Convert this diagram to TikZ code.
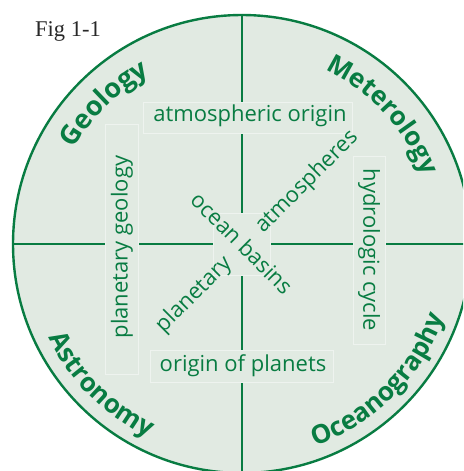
\documentclass[tikz,border=0pt]{standalone}
\usepackage{fontspec}
\setmainfont{Open Sans}
\newfontfamily\figfont{Liberation Serif}
\usetikzlibrary{decorations.text,calc}
\definecolor{dgreen}{RGB}{8,124,66}
\definecolor{pale}{RGB}{225,234,226}
\definecolor{boxedge}{RGB}{238,243,239}
\definecolor{figgray}{RGB}{40,40,40}
\tikzset{
  inner/.style={text=dgreen, font=\fontsize{22}{22}\selectfont, inner sep=0pt},
  boxbg/.style={fill=pale, draw=boxedge, line width=0.8pt, inner sep=0pt},
  axis/.style={draw=dgreen, line width=2.4pt},
}
\begin{document}
\begin{tikzpicture}[x=1pt,y=1pt]
\useasboundingbox (0,0) rectangle (463,-471);
\clip (0,0) rectangle (463,-471);
\coordinate (c) at (242,-244);
\node[circle, minimum size=458pt, fill=pale, draw=dgreen, line width=2.4pt, inner sep=0pt] (disc) at (c) {};
% axes
\draw[axis] (disc.north) -- (disc.south);
\draw[axis] (disc.west) -- (disc.east);
% boxes
\node[boxbg, minimum width=209pt, minimum height=31pt] (b1) at (247.5,-117.5) {};
\node[boxbg, minimum width=183pt, minimum height=32pt] (b2) at (241.5,-366) {};
\node[boxbg, minimum width=33pt, minimum height=250pt] (b3) at (121.5,-249) {};
\node[boxbg, minimum width=32pt, minimum height=188pt] (b4) at (369,-250) {};
\node[boxbg, minimum width=57pt, minimum height=62pt] (b5) at (241.5,-244) {};
% inner texts
\node[inner] (t1) at (250,-116) {atmospheric origin};
\node[inner] (t2) at (243,-366) {origin of planets};
\node[inner, rotate=90] (t3) at (122,-247) {planetary geology};
\node[inner, rotate=-90] (t4) at (369,-250) {hydrologic cycle};
\node[inner, rotate=-45] (t5) at (242,-243) {ocean basins};
\node[inner, rotate=45] (t6) at (307,-182) {atmospheres};
\node[inner, rotate=45] (t7) at (194,-295) {planetary};
% curved labels
\path[decorate, decoration={text along path, text align=center, text color=dgreen,
  text={|\fontsize{27}{27}\selectfont\bfseries|Geology}}]
  ($(c)+(170:193)$) arc[start angle=170, end angle=99, radius=193];
\path[decorate, decoration={text along path, text align=center, text color=dgreen,
  text={|\fontsize{26}{26}\selectfont\bfseries|Meterology}}]
  ($(c)+(80:193)$) arc[start angle=80, end angle=5, radius=193];
\path[decorate, decoration={text along path, text align=center, text color=dgreen,
  text={|\fontsize{26}{26}\selectfont\bfseries|Astronomy}}]
  ($(c)+(190:215)$) arc[start angle=190, end angle=260, radius=215];
\path[decorate, decoration={text along path, text align=center, text color=dgreen,
  text={|\fontsize{26}{26}\selectfont\bfseries|Oceanography}}]
  ($(c)+(278:215)$) arc[start angle=278, end angle=352, radius=215];
% figure label
\node[text=figgray, font=\figfont\fontsize{22.5}{22.5}\selectfont, anchor=base west, inner sep=0pt] (fig) at (35,-36) {Fig 1-1};
\end{tikzpicture}
\end{document}
